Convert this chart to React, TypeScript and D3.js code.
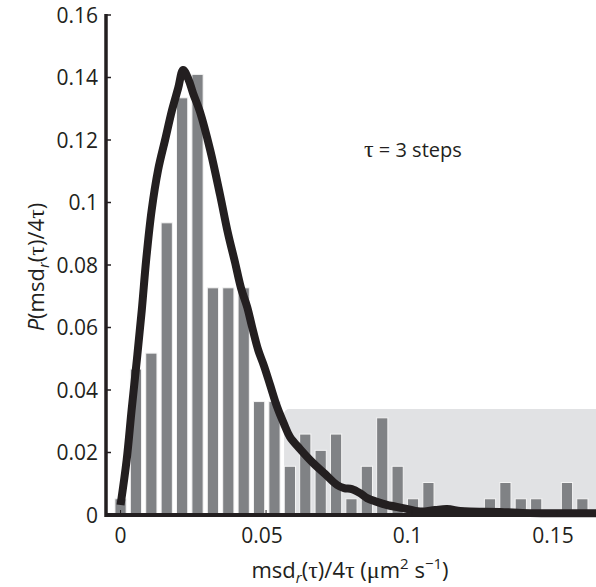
import React, { useEffect, useRef } from "react";
import * as d3 from "d3";

// histogram bin heights, bins centred on i * binStep
const binStep = 0.00529;
const binHeights = [
  0.0052, 0.0467, 0.0518, 0.0935, 0.1335, 0.141, 0.0727, 0.0727, 0.0727,
  0.0363, 0.0363, 0.0156, 0.0259, 0.0207, 0.0259, 0.0052, 0.0156, 0.0311,
  0.0156, 0.0052, 0.0104, 0, 0, 0, 0.0052, 0.0104, 0.0052, 0.0052, 0, 0.0104,
  0.0052,
];

// fitted distribution (black curve)
const curveX = [
  0, 0.0021, 0.0038, 0.0056, 0.0073, 0.0088, 0.0107, 0.0129, 0.0153, 0.0177,
  0.0198, 0.0215, 0.0233, 0.0249, 0.0273, 0.0308, 0.0342, 0.0369, 0.0393,
  0.0414, 0.0435, 0.0452, 0.0473, 0.0493, 0.0514, 0.0538, 0.0562, 0.0582,
  0.0617, 0.0662, 0.0703, 0.0744, 0.0768, 0.0795, 0.0823, 0.0847, 0.0881,
  0.0916, 0.0971, 0.1029, 0.1081, 0.1122, 0.1167, 0.1201, 0.1304, 0.1407,
  0.1648,
];
const curveY = [
  0.0032, 0.0176, 0.0336, 0.0496, 0.0656, 0.0816, 0.0976, 0.1104, 0.12,
  0.1296, 0.1366, 0.1424, 0.1395, 0.135, 0.129, 0.1168, 0.1024, 0.0902, 0.081,
  0.0726, 0.0666, 0.0602, 0.0528, 0.0477, 0.0416, 0.0346, 0.0291, 0.025,
  0.0211, 0.0166, 0.0131, 0.0096, 0.0086, 0.0083, 0.007, 0.0054, 0.0042,
  0.0032, 0.0022, 0.0011, 0.0016, 0.0019, 0.0013, 0.0011, 0.001, 0.0006,
  0.0006,
];

const xTicks = [0, 0.05, 0.1, 0.15];
const xTickLabels = ["0", "0.05", "0.1", "0.15"];
const yTicks = [0, 0.02, 0.04, 0.06, 0.08, 0.1, 0.12, 0.14, 0.16];
const yTickLabels = ["0", "0.02", "0.04", "0.06", "0.08", "0.1", "0.12", "0.14", "0.16"];

// light grey background panel (x start, top value)
const shadeStart = 0.0562;
const shadeTop = 0.0339;

const W = 596;
const H = 587;
const SANS = "'Open Sans', 'Noto Sans', sans-serif";
const SERIF = "'Liberation Serif', 'DejaVu Serif', serif";

const App = () => {
  const ref = useRef<SVGSVGElement>(null);

  useEffect(() => {
    const svg = d3.select(ref.current);
    svg.selectAll("*").remove();

    const x = d3.scaleLinear().domain([-0.005, 0.165]).range([106, 600.7]);
    const y = d3.scaleLinear().domain([0, 0.16]).range([515, 15]);

    // shaded panel
    svg
      .append("rect")
      .attr("x", x(shadeStart))
      .attr("y", y(shadeTop))
      .attr("width", x(0.165) - x(shadeStart))
      .attr("height", y(0) - y(shadeTop))
      .attr("rx", 5)
      .attr("fill", "#e1e2e4");

    const barW = (x(binStep) - x(0)) * 0.73;
    const bins = binHeights.map((v, i) => ({ v, i })).filter((d) => d.v > 0);
    svg
      .append("g")
      .selectAll("rect")
      .data(bins)
      .enter()
      .append("rect")
      .attr("x", (d) => x(d.i * binStep) - barW / 2)
      .attr("y", (d) => y(d.v))
      .attr("width", barW)
      .attr("height", (d) => y(0) - y(d.v))
      .attr("fill", "#808285")
      .attr("stroke", "#f4f4f4")
      .attr("stroke-width", 1);

    // curve
    const pts = curveX.map((v, i) => [v, curveY[i]] as [number, number]);
    const line = d3
      .line<[number, number]>()
      .x((d) => x(d[0]))
      .y((d) => y(d[1]))
      .curve(d3.curveCatmullRom.alpha(0.5));
    svg
      .append("path")
      .attr("d", line(pts))
      .attr("fill", "none")
      .attr("stroke", "#231f20")
      .attr("stroke-width", 8)
      .attr("stroke-linejoin", "round");

    // axes
    const ax = svg.append("g").attr("stroke", "#231f20");
    ax.append("line")
      .attr("x1", x(-0.005))
      .attr("x2", W)
      .attr("y1", y(0))
      .attr("y2", y(0))
      .attr("stroke-width", 4);
    ax.append("line")
      .attr("x1", x(-0.005))
      .attr("x2", x(-0.005))
      .attr("y1", y(0.16) - 1)
      .attr("y2", y(0) + 2)
      .attr("stroke-width", 3.5);
    ax.selectAll(".yt")
      .data(yTicks)
      .enter()
      .append("line")
      .attr("x1", x(-0.005))
      .attr("x2", x(-0.005) + 5)
      .attr("y1", (d) => y(d))
      .attr("y2", (d) => y(d))
      .attr("stroke-width", 1.5);
    ax.selectAll(".xt")
      .data(xTicks)
      .enter()
      .append("line")
      .attr("x1", (d) => x(d))
      .attr("x2", (d) => x(d))
      .attr("y1", y(0))
      .attr("y2", y(0) - 5)
      .attr("stroke-width", 1);

    const txt = svg
      .append("g")
      .attr("font-family", SANS)
      .attr("fill", "#231f20");

    txt
      .selectAll(".yl")
      .data(yTicks)
      .enter()
      .append("text")
      .attr("x", 98)
      .attr("y", (d) => y(d))
      .attr("dy", "0.36em")
      .attr("text-anchor", "end")
      .attr("font-size", 21)
      .text((d, i) => yTickLabels[i]);

    txt
      .selectAll(".xl")
      .data(xTicks)
      .enter()
      .append("text")
      .attr("x", (d) => x(d) - (d === 0 ? 0 : 4))
      .attr("y", 543)
      .attr("text-anchor", "middle")
      .attr("font-size", 21)
      .text((d, i) => xTickLabels[i]);

    // x-axis title
    const xt = txt
      .append("text")
      .attr("x", 350)
      .attr("y", 578)
      .attr("text-anchor", "middle")
      .attr("font-size", 22);
    xt.append("tspan").text("msd");
    xt.append("tspan").attr("font-size", 15).attr("font-style", "italic").attr("dy", 5).text("r");
    xt.append("tspan").attr("dy", -5).text("(");
    xt.append("tspan").attr("font-family", SERIF).attr("font-size", 24).text("τ");
    xt.append("tspan").text(")/4");
    xt.append("tspan").attr("font-family", SERIF).attr("font-size", 24).text("τ");
    xt.append("tspan").text(" (");
    xt.append("tspan").attr("font-family", SERIF).attr("font-size", 24).text("μ");
    xt.append("tspan").text("m");
    xt.append("tspan").attr("font-size", 15).attr("dy", -9).text("2");
    xt.append("tspan").attr("dy", 9).text(" s");
    xt.append("tspan").attr("font-size", 15).attr("dy", -9).text("−1");
    xt.append("tspan").attr("dy", 9).text(")");

    // y-axis title
    const yt = txt
      .append("text")
      .attr("transform", "translate(44,267) rotate(-90)")
      .attr("text-anchor", "middle")
      .attr("font-size", 22);
    yt.append("tspan").attr("font-style", "italic").text("P");
    yt.append("tspan").text("(msd");
    yt.append("tspan").attr("font-size", 15).attr("font-style", "italic").attr("dy", 5).text("r");
    yt.append("tspan").attr("dy", -5).text("(");
    yt.append("tspan").attr("font-family", SERIF).attr("font-size", 24).text("τ");
    yt.append("tspan").text(")/4");
    yt.append("tspan").attr("font-family", SERIF).attr("font-size", 24).text("τ");
    yt.append("tspan").text(")");

    // annotation
    const an = txt
      .append("text")
      .attr("x", 364)
      .attr("y", 157)
      .attr("font-size", 20);
    an.append("tspan").attr("font-family", SERIF).attr("font-size", 24).text("τ");
    an.append("tspan").text(" = 3 steps");
  }, []);

  return (
    <svg
      ref={ref}
      width={W}
      height={H}
      style={{ position: "absolute", left: 0, top: 0, background: "#fff" }}
    />
  );
};

export default App;
